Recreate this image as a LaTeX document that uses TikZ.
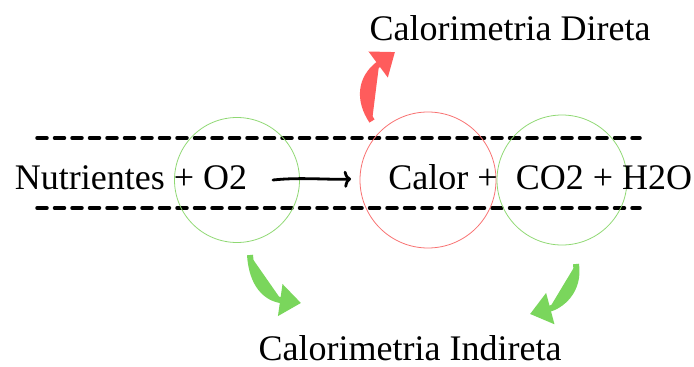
\documentclass[tikz,border=0pt]{standalone}
\usepackage{fontspec}
\setmainfont{Liberation Serif}
\usetikzlibrary{arrows.meta}
\definecolor{myred}{HTML}{FF5C5C}
\definecolor{mygreen}{HTML}{7AD65C}
\definecolor{circred}{HTML}{F87272}
\definecolor{circgreen}{HTML}{8FD873}
\tikzset{
  lbl/.style={font=\fontsize{36}{40}\selectfont, inner sep=0pt, anchor=base},
  dashline/.style={line width=3.5pt, line cap=round, dash pattern=on 10pt off 7.5pt},
  ring/.style={line width=0.8pt},
  bigarrow/.style={line width=6pt, -{Triangle[width=31pt,length=21pt]}},
}
\begin{document}
\begin{tikzpicture}[x=1pt,y=-1pt]
\useasboundingbox (0,0) rectangle (694,367);
% dashed lines
\coordinate (d1a) at (37,138); \coordinate (d1b) at (640,138);
\coordinate (d2a) at (37,208); \coordinate (d2b) at (640,208);
\draw[dashline] (d1a) -- (d1b);
\draw[dashline] (d2a) -- (d2b);
% circles
\node[ring, draw=circgreen, circle, minimum size=125pt] (c1) at (237,180) {};
\node[ring, draw=circred, circle, minimum size=136pt] (c2) at (428,180) {};
\node[ring, draw=circgreen, circle, minimum size=130pt] (c3) at (562,180) {};
% texts
\node[lbl] (nut) at (131,189) {Nutrientes + O2};
\node[lbl] (cal) at (443,189) {Calor +};
\node[lbl] (co2) at (604,189) {CO2 + H2O};
\node[lbl] (dir) at (510,40) {Calorimetria Direta};
\node[lbl] (ind) at (410,360) {Calorimetria Indireta};
% reaction arrow
\coordinate (ra) at (273,180);
\coordinate (rb) at (351,179);
\draw[line width=2.8pt, line cap=round, -{To[length=7pt,width=17pt]}] (ra) .. controls (300,177) and (330,180) .. (rb);
% red arrow
\coordinate (r0) at (372,121);
\coordinate (r1) at (395,52);
\draw[bigarrow, draw=myred, fill=myred] (r0) .. controls (358,100) and (360,78) .. (r1);
% green arrows
\coordinate (g0) at (250,255);
\coordinate (g1) at (301,303);
\draw[bigarrow, draw=mygreen, fill=mygreen] (g0) .. controls (252,285) and (266,298) .. (g1);
\coordinate (h0) at (576,264);
\coordinate (h1) at (530,314);
\draw[bigarrow, draw=mygreen, fill=mygreen] (h0) .. controls (580,292) and (560,306) .. (h1);
\end{tikzpicture}
\end{document}
